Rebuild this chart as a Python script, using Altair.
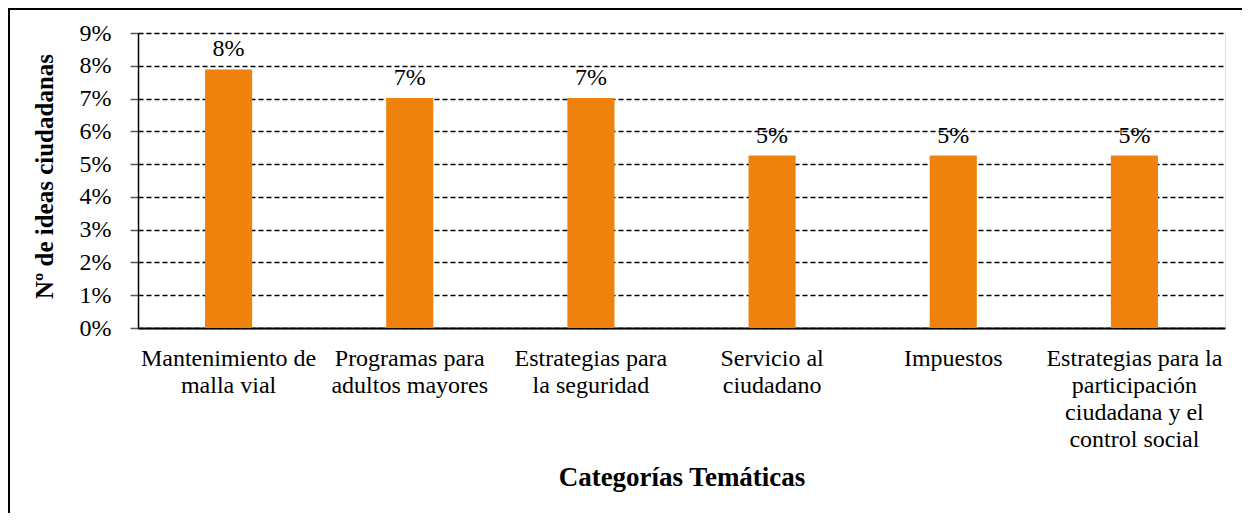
import altair as alt
import pandas as pd

categories = [
    "Mantenimiento de\nmalla vial",
    "Programas para\nadultos mayores",
    "Estrategias para\nla seguridad",
    "Servicio al\nciudadano",
    "Impuestos",
    "Estrategias para la\nparticipación\nciudadana y el\ncontrol social",
]
values = [0.0789, 0.0702, 0.0702, 0.0526, 0.0526, 0.0526]
y_ticks = [0, 0.01, 0.02, 0.03, 0.04, 0.05, 0.06, 0.07, 0.08, 0.09]

df = pd.DataFrame({"cat": categories, "val": values})

FONT = "Liberation Serif"
BAR = "#EF820D"

x_enc = alt.X(
    "cat:N",
    sort=categories,
    scale=alt.Scale(paddingInner=0.74, paddingOuter=0.37),
    axis=alt.Axis(
        title="Categorías Temáticas",
        titleFont=FONT,
        titleFontSize=27,
        titleFontWeight="bold",
        titleColor="black",
        titlePadding=13,
        labelFont=FONT,
        labelFontSize=24,
        labelColor="black",
        labelAngle=0,
        labelLineHeight=27.2,
        labelPadding=18,
        labelBaseline="top",
        labelExpr="split(datum.label, '\\n')",
        ticks=False,
        domainColor="black",
        domainWidth=2,
        grid=False,
    ),
)

y_enc = alt.Y(
    "val:Q",
    scale=alt.Scale(domain=[0, 0.09], nice=False),
    axis=alt.Axis(
        title="Nº de ideas ciudadanas",
        titleFont=FONT,
        titleFontSize=25,
        titleFontWeight="bold",
        titleColor="black",
        titlePadding=22,
        titleY=143,
        values=y_ticks,
        format=".0%",
        labelFont=FONT,
        labelFontSize=24,
        labelColor="black",
        labelPadding=19,
        labelOverlap=False,
        tickSize=8,
        tickColor="#595959",
        tickWidth=1.5,
        domainColor="black",
        domainWidth=1.5,
        grid=True,
        gridColor="black",
        gridDash=[5, 3],
        gridWidth=1.3,
    ),
)

base = alt.Chart(df).encode(x=x_enc, y=y_enc)

bars = base.mark_bar(color=BAR)

labels = base.mark_text(
    font=FONT, fontSize=24, color="black", baseline="alphabetic", dy=-13
).encode(text=alt.Text("val:Q", format=".0%"))

border = alt.Chart(pd.DataFrame({"a": [0]})).mark_rect(
    filled=False, stroke="black", strokeWidth=2
).encode(
    x=alt.value(-129), x2=alt.value(1300), y=alt.value(-24), y2=alt.value(700)
)

chart = (
    alt.layer(bars, labels, border)
    .properties(
        width=1087,
        height=295,
        padding={"left": 130, "right": 17, "top": 25, "bottom": 185},
        autosize=alt.AutoSizeParams(type="none"),
    )
    .configure_view(strokeWidth=0, stroke="transparent")
    .configure(background="white")
)

chart.save("out.html", embed_options={"renderer": "svg", "actions": False})
